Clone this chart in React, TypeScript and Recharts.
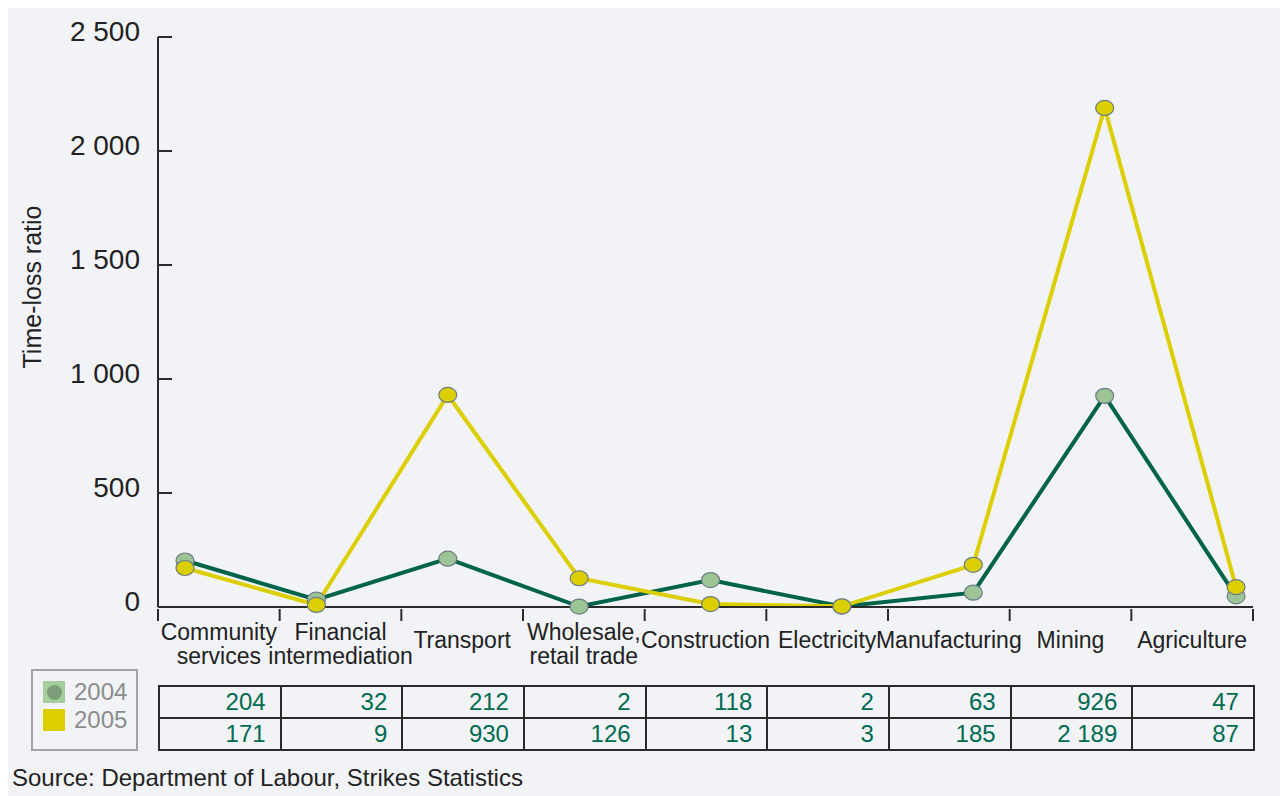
import React from "react";
import { LineChart, Line, XAxis, YAxis } from "recharts";

const categories = [
  "Community\nservices",
  "Financial\nintermediation",
  "Transport",
  "Wholesale,\nretail trade",
  "Construction",
  "Electricity",
  "Manufacturing",
  "Mining",
  "Agriculture",
];
const values2004 = [204, 32, 212, 2, 118, 2, 63, 926, 47];
const values2005 = [171, 9, 930, 126, 13, 3, 185, 2189, 87];
const yTicks = [0, 500, 1000, 1500, 2000, 2500];

const W = 1280;
const H = 788;
const PLOT_LEFT = 150;
const PLOT_RIGHT = 1245;
const CELL = (PLOT_RIGHT - PLOT_LEFT) / categories.length;
const FONT = '"Liberation Sans", Arial, Helvetica, sans-serif';
const GREEN = "#00634a";
const YELLOW = "#dccf00";

const data = categories.map((c, i) => ({
  idx: i,
  name: c,
  y2004: values2004[i],
  y2005: values2005[i],
}));

const fmt = (v: number) =>
  String(v).replace(/\B(?=(\d{3})+(?!\d))/g, " ");

const YTick = (props: any) => {
  const { y, payload } = props;
  return (
    <g>
      <line x1={PLOT_LEFT} x2={PLOT_LEFT + 14} y1={y} y2={y} stroke="#2b2b2b" strokeWidth={2} />
      <text
        x={PLOT_LEFT - 18}
        y={y - 3}
        textAnchor="end"
        dominantBaseline="middle"
        fontSize={28}
        fill="#222"
        fontFamily={FONT}
      >
        {fmt(payload.value)}
      </text>
    </g>
  );
};

// tick mark on the left boundary of each cell (and the right one for the last), label centred in the cell
const CatTick = (props: any) => {
  const { x, y, payload, index } = props;
  const lines = String(payload.value).split("\n");
  const left = x - CELL / 2;
  return (
    <g>
      <line x1={left} x2={left} y1={y + 2} y2={y + 14} stroke="#2b2b2b" strokeWidth={2} />
      {index === categories.length - 1 && (
        <line x1={left + CELL} x2={left + CELL} y1={y + 2} y2={y + 14} stroke="#2b2b2b" strokeWidth={2} />
      )}
      {lines.map((ln, k) => (
        <text
          key={k}
          x={x}
          y={y + (lines.length > 1 ? 27 : 35) + k * 24}
          textAnchor="middle"
          dominantBaseline="middle"
          fontSize={23}
          fill="#222"
          fontFamily={FONT}
        >
          {ln}
        </text>
      ))}
    </g>
  );
};

const makeDot = (fill: string) => (props: any) => {
  const { cx, cy, index } = props;
  return (
    <ellipse key={index} cx={cx} cy={cy} rx={9} ry={7.5} fill={fill} stroke="#6d7c86" strokeWidth={1.2} />
  );
};

const cellStyle: React.CSSProperties = {
  width: CELL,
  textAlign: "right",
  boxSizing: "border-box",
  border: "2px solid #2b2b2b",
  color: "#006b4f",
  fontSize: 24,
  height: 32,
  lineHeight: "28px",
  padding: "0 14px 0 0",
};

export default function App() {
  return (
    <div
      style={{
        position: "relative",
        width: W,
        height: H,
        background: "#f1f3f7",
        fontFamily: FONT,
      }}
    >
      <style>{`html,body{overflow:hidden}`}</style>
      <LineChart
        width={W}
        height={H}
        data={data}
        margin={{ top: 29, right: W - PLOT_RIGHT, left: 10, bottom: 119 }}
      >
        <XAxis xAxisId="pts" dataKey="idx" type="number" domain={[-0.2055, 8.129]} hide allowDataOverflow />
        <XAxis
          xAxisId="cat"
          dataKey="name"
          type="category"
          scale="band"
          interval={0}
          height={70}
          tickSize={0}
          tickMargin={0}
          tickLine={false}
          axisLine={{ stroke: "#2b2b2b", strokeWidth: 2 }}
          tick={<CatTick />}
        />
        <YAxis
          width={PLOT_LEFT - 10}
          domain={[0, 2500]}
          ticks={yTicks}
          interval={0}
          tickSize={0}
          tickMargin={0}
          tickLine={false}
          axisLine={{ stroke: "#2b2b2b", strokeWidth: 2 }}
          tick={<YTick />}
          label={{
            content: () => (
              <text
                x={26}
                y={279}
                transform="rotate(-90 26 279)"
                textAnchor="middle"
                dominantBaseline="middle"
                fontSize={25}
                fill="#222"
                fontFamily={FONT}
              >
                Time-loss ratio
              </text>
            ),
          }}
        />
        <Line
          xAxisId="pts"
          dataKey="y2004"
          stroke={GREEN}
          strokeWidth={4}
          dot={makeDot("#9cc497")}
          activeDot={false}
          isAnimationActive={false}
        />
        <Line
          xAxisId="pts"
          dataKey="y2005"
          stroke={YELLOW}
          strokeWidth={4}
          dot={makeDot(YELLOW)}
          activeDot={false}
          isAnimationActive={false}
        />
      </LineChart>

      <div
        style={{
          position: "absolute",
          left: 23,
          top: 661,
          width: 107,
          height: 82,
          border: "2px solid #a3a3a3",
          boxSizing: "border-box",
        }}
      >
        {[
          { label: "2004", color: "#a6cd9c", inner: "#7c9d78" },
          { label: "2005", color: YELLOW, inner: null },
        ].map((s, k) => (
          <div
            key={s.label}
            style={{
              position: "absolute",
              left: 10,
              top: 10 + k * 28,
              display: "flex",
              alignItems: "center",
            }}
          >
            <div
              style={{
                width: 22,
                height: 22,
                background: s.color,
                display: "flex",
                alignItems: "center",
                justifyContent: "center",
              }}
            >
              {s.inner && (
                <div style={{ width: 15, height: 15, borderRadius: 8, background: s.inner }} />
              )}
            </div>
            <span style={{ marginLeft: 9, fontSize: 24, color: "#8c8c8c", lineHeight: "22px" }}>{s.label}</span>
          </div>
        ))}
      </div>

      <table
        style={{
          position: "absolute",
          left: PLOT_LEFT,
          top: 677,
          width: PLOT_RIGHT - PLOT_LEFT,
          borderCollapse: "collapse",
          tableLayout: "fixed",
          fontFamily: FONT,
        }}
      >
        <tbody>
          {[values2004, values2005].map((row, r) => (
            <tr key={r}>
              {row.map((v, i) => (
                <td key={i} style={cellStyle}>
                  {fmt(v)}
                </td>
              ))}
            </tr>
          ))}
        </tbody>
      </table>

      <div
        style={{
          position: "absolute",
          left: 4,
          top: 756,
          fontSize: 24,
          color: "#222",
        }}
      >
        Source: Department of Labour, Strikes Statistics
      </div>
    </div>
  );
}
